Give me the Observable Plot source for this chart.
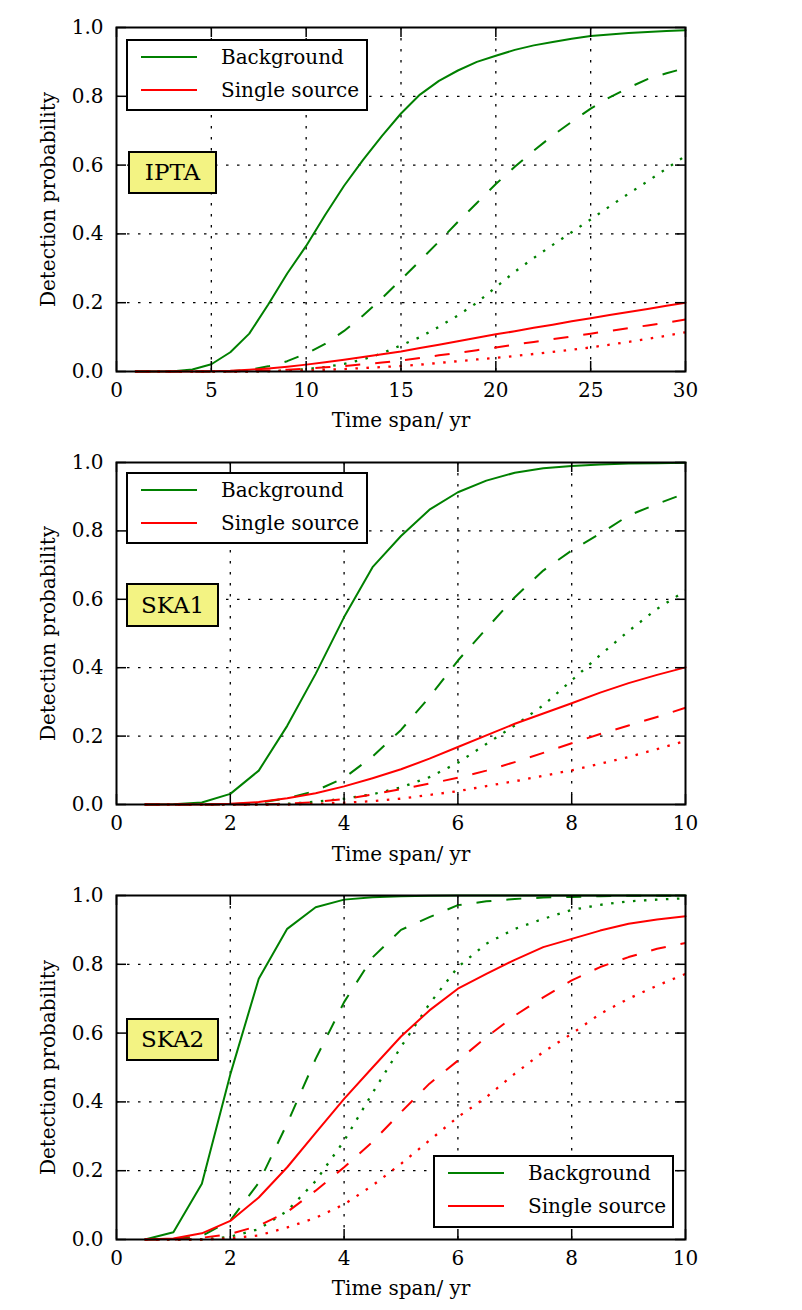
<!DOCTYPE html>
<html>
<head>
<meta charset="utf-8">
<script src="https://cdn.jsdelivr.net/npm/d3@7"></script>
<script src="https://cdn.jsdelivr.net/npm/@observablehq/plot@0.6"></script>
<style>
  html, body { margin: 0; padding: 0; background: #fff; }
  #wrap { position: relative; width: 802px; height: 1310px; font-family: "DejaVu Serif", serif; color: #000; }
  .panel { position: absolute; left: 0; width: 802px; height: 435px; }
  .panel svg { position: absolute; left: 0; top: 0; font-family: "DejaVu Serif", serif !important; }
  .panel svg text { font-family: "DejaVu Serif", serif !important; }
  .legend { position: absolute; box-sizing: border-box; border: 2px solid #000; background: #fff; }
  .legend .row { position: absolute; left: 0; right: 0; height: 0; }
  .legend .sw { position: absolute; left: 13px; width: 56px; height: 2px; top: -1px; }
  .legend .lt { position: absolute; left: 93px; top: 0; transform: translateY(-52%); font-size: 20px; line-height: 1; white-space: nowrap; }
  .tag { position: absolute; box-sizing: border-box; border: 2.5px solid #000; background: #f3f383; font-size: 23px; line-height: 1; display: flex; align-items: center; justify-content: center; }
</style>
</head>
<body>
<div id="wrap"></div>
<script>
// ---------------- data ----------------
const iptaT = [1,2,3,4,5,6,7,8,9,10,11,12,13,14,15,16,17,18,19,20,21,22,23,24,25,26,27,28,29,30];
const iptaBgSolid  = [0,0,0.001,0.006,0.021,0.056,0.11,0.195,0.285,0.365,0.455,0.54,0.615,0.685,0.75,0.805,0.845,0.875,0.9,0.918,0.935,0.948,0.958,0.967,0.975,0.98,0.984,0.987,0.99,0.992];
const iptaBgDashed = [0,0,0,0,0,0.001,0.005,0.015,0.03,0.052,0.08,0.118,0.163,0.213,0.267,0.322,0.378,0.435,0.49,0.545,0.595,0.642,0.686,0.726,0.764,0.797,0.825,0.85,0.867,0.882];
const iptaBgDotted = [0,0,0,0,0,0,0,0.001,0.003,0.007,0.013,0.022,0.035,0.053,0.076,0.1,0.13,0.163,0.2,0.245,0.29,0.33,0.368,0.405,0.442,0.48,0.517,0.553,0.59,0.627];
const iptaSsSolid  = [0,0,0,0,0.001,0.002,0.005,0.009,0.014,0.02,0.027,0.034,0.042,0.05,0.058,0.068,0.078,0.088,0.098,0.108,0.117,0.127,0.136,0.146,0.155,0.164,0.173,0.182,0.191,0.2];
const iptaSsDashed = [0,0,0,0,0,0,0.001,0.003,0.005,0.008,0.012,0.016,0.021,0.026,0.032,0.039,0.047,0.054,0.062,0.07,0.078,0.086,0.094,0.102,0.11,0.118,0.126,0.134,0.142,0.151];
const iptaSsDotted = [0,0,0,0,0,0,0,0.001,0.002,0.003,0.005,0.007,0.01,0.013,0.016,0.02,0.025,0.03,0.035,0.04,0.045,0.051,0.057,0.063,0.07,0.078,0.086,0.095,0.104,0.114];

const skaT = [0.5,1,1.5,2,2.5,3,3.5,4,4.5,5,5.5,6,6.5,7,7.5,8,8.5,9,9.5,10];
const ska1BgSolid  = [0,0.001,0.006,0.031,0.099,0.23,0.382,0.548,0.694,0.785,0.862,0.913,0.947,0.97,0.983,0.99,0.994,0.997,0.998,0.999];
const ska1BgDashed = [0,0,0,0.001,0.005,0.018,0.04,0.078,0.14,0.218,0.314,0.421,0.514,0.606,0.684,0.743,0.792,0.845,0.879,0.91];
const ska1BgDotted = [0,0,0,0,0,0.002,0.008,0.017,0.03,0.05,0.08,0.122,0.177,0.231,0.29,0.363,0.437,0.507,0.572,0.625];
const ska1SsSolid  = [0,0,0,0.002,0.007,0.018,0.033,0.053,0.077,0.103,0.134,0.168,0.202,0.236,0.266,0.296,0.327,0.355,0.379,0.401];
const ska1SsDashed = [0,0,0,0,0,0.002,0.007,0.016,0.029,0.045,0.061,0.078,0.099,0.124,0.151,0.179,0.206,0.231,0.256,0.283];
const ska1SsDotted = [0,0,0,0,0,0,0.002,0.005,0.01,0.017,0.028,0.039,0.054,0.068,0.084,0.1,0.119,0.139,0.162,0.186];

const ska2BgSolid  = [0,0.021,0.162,0.48,0.758,0.903,0.966,0.988,0.995,0.998,0.999,1,1,1,1,1,1,1,1,1];
const ska2BgDashed = [0,0.001,0.01,0.055,0.165,0.337,0.525,0.69,0.82,0.9,0.937,0.972,0.983,0.99,0.994,0.996,0.998,0.999,0.999,1];
const ska2BgDotted = [0,0,0,0.008,0.03,0.083,0.17,0.287,0.426,0.56,0.685,0.792,0.86,0.903,0.932,0.958,0.973,0.983,0.988,0.992];
const ska2SsSolid  = [0,0.003,0.018,0.054,0.122,0.21,0.31,0.409,0.5,0.59,0.666,0.729,0.772,0.813,0.85,0.874,0.898,0.918,0.93,0.94];
const ska2SsDashed = [0,0,0.005,0.016,0.04,0.08,0.142,0.21,0.284,0.37,0.453,0.52,0.588,0.651,0.704,0.753,0.792,0.821,0.845,0.862];
const ska2SsDotted = [0,0,0,0.003,0.012,0.035,0.063,0.102,0.157,0.22,0.288,0.356,0.414,0.482,0.545,0.598,0.656,0.7,0.738,0.772];

const iptaXTicks = [0,5,10,15,20,25,30];
const skaXTicks = [0,2,4,6,8,10];
const yTicks = [0,0.2,0.4,0.6,0.8,1.0];
const seriesNames = ["Background", "Single source"];
const seriesColors = ["#008000", "#ff0000"];
const panelNames = ["IPTA", "SKA1", "SKA2"];
const xLabel = "Time span/ yr";
const yLabel = "Detection probability";

// ---------------- drawing ----------------
const DASHES = [null, "15,15", "2.5,8.5"];
const ML = 116, MR = 117, MT = 27, SVGH = 435, FW = 802;
const FONT = "DejaVu Serif, serif";

function makePanel({t, xticks, bg, ss, mb, xLabelDy}) {
  const H = SVGH - MT - mb;
  const W = FW - ML - MR;
  const xmax = xticks[xticks.length - 1];
  const innerX = xticks.slice(1, -1);
  const innerY = yTicks.slice(1, -1);
  const lineMarks = [];
  [bg, ss].forEach((group, gi) => {
    group.forEach((vals, k) => {
      lineMarks.push(Plot.line(vals, {
        x: t, y: vals,
        stroke: seriesColors[gi],
        strokeWidth: k === 2 ? 2.3 : 2,
        strokeDasharray: DASHES[k],
        strokeLinecap: k === 0 ? "round" : "butt",
        strokeLinejoin: "round"
      }));
    });
  });
  return Plot.plot({
    width: FW, height: SVGH,
    marginLeft: ML, marginRight: MR, marginTop: MT, marginBottom: mb,
    x: {domain: [0, xmax], axis: null},
    y: {domain: [0, 1], axis: null},
    style: {fontFamily: FONT, fontSize: "20px", background: "transparent", color: "#000", overflow: "visible"},
    marks: [
      Plot.gridX(innerX, {stroke: "#000", strokeOpacity: 1, strokeWidth: 1.3, strokeDasharray: "2.5,8.5"}),
      Plot.gridY(innerY, {stroke: "#000", strokeOpacity: 1, strokeWidth: 1.3, strokeDasharray: "2.5,8.5"}),
      ...lineMarks,
      Plot.tickX(xticks, {x: d => d, insetTop: H - 10, stroke: "#000", strokeWidth: 1.5}),
      Plot.tickX(xticks, {x: d => d, insetBottom: H - 10, stroke: "#000", strokeWidth: 1.5}),
      Plot.tickY(yTicks, {y: d => d, insetRight: W - 10, stroke: "#000", strokeWidth: 1.5}),
      Plot.tickY(yTicks, {y: d => d, insetLeft: W - 10, stroke: "#000", strokeWidth: 1.5}),
      Plot.frame({stroke: "#000", strokeWidth: 2}),
      Plot.axisX(xticks, {tickSize: 0, tickPadding: 11, fontSize: 20, fontFamily: FONT, label: null, tickFormat: d => String(d)}),
      Plot.axisY(yTicks, {tickSize: 0, tickPadding: 13, fontSize: 20, fontFamily: FONT, label: null, tickFormat: d3.format(".1f")}),
      Plot.text([xLabel], {text: d => d, frameAnchor: "bottom", dy: xLabelDy, lineAnchor: "middle", textAnchor: "middle", fontSize: 20, fontFamily: FONT}),
      Plot.text([yLabel], {text: d => d, frameAnchor: "left", dx: -68, rotate: -90, lineAnchor: "middle", textAnchor: "middle", fontSize: 20, fontFamily: FONT})
    ]
  });
}

function addLegend(parent, left, top, w, h, rowYs) {
  const lg = document.createElement("div");
  lg.className = "legend";
  Object.assign(lg.style, {left: left + "px", top: top + "px", width: w + "px", height: h + "px"});
  seriesNames.forEach((name, i) => {
    const row = document.createElement("div");
    row.className = "row";
    row.style.top = rowYs[i] + "px";
    const sw = document.createElement("div");
    sw.className = "sw";
    sw.style.background = seriesColors[i];
    const lt = document.createElement("div");
    lt.className = "lt";
    lt.textContent = name;
    row.appendChild(sw); row.appendChild(lt);
    lg.appendChild(row);
  });
  parent.appendChild(lg);
}

function addTag(parent, text, left, top, w, h) {
  const tg = document.createElement("div");
  tg.className = "tag";
  Object.assign(tg.style, {left: left + "px", top: top + "px", width: w + "px", height: h + "px"});
  tg.textContent = text;
  parent.appendChild(tg);
}

const wrap = document.getElementById("wrap");
const configs = [
  {top: 0,   t: iptaT, xticks: iptaXTicks, bg: [iptaBgSolid, iptaBgDashed, iptaBgDotted], ss: [iptaSsSolid, iptaSsDashed, iptaSsDotted], mb: 64, xLabelDy: 49,
   legend: [126, 39, 242, 72], tag: [128, 151, 89, 43]},
  {top: 435, t: skaT, xticks: skaXTicks, bg: [ska1BgSolid, ska1BgDashed, ska1BgDotted], ss: [ska1SsSolid, ska1SsDashed, ska1SsDotted], mb: 66, xLabelDy: 50,
   legend: [126, 37, 242, 72], tag: [126, 148, 93, 44]},
  {top: 868, t: skaT, xticks: skaXTicks, bg: [ska2BgSolid, ska2BgDashed, ska2BgDotted], ss: [ska2SsSolid, ska2SsDashed, ska2SsDotted], mb: 64, xLabelDy: 49,
   legend: [433, 287, 241, 73], tag: [126, 150, 93, 43]}
];
configs.forEach((c, i) => {
  const p = document.createElement("div");
  p.className = "panel";
  p.style.top = c.top + "px";
  p.appendChild(makePanel(c));
  addLegend(p, c.legend[0], c.legend[1], c.legend[2], c.legend[3], [16, 49]);
  addTag(p, panelNames[i], c.tag[0], c.tag[1], c.tag[2], c.tag[3]);
  wrap.appendChild(p);
});
</script>
</body>
</html>
